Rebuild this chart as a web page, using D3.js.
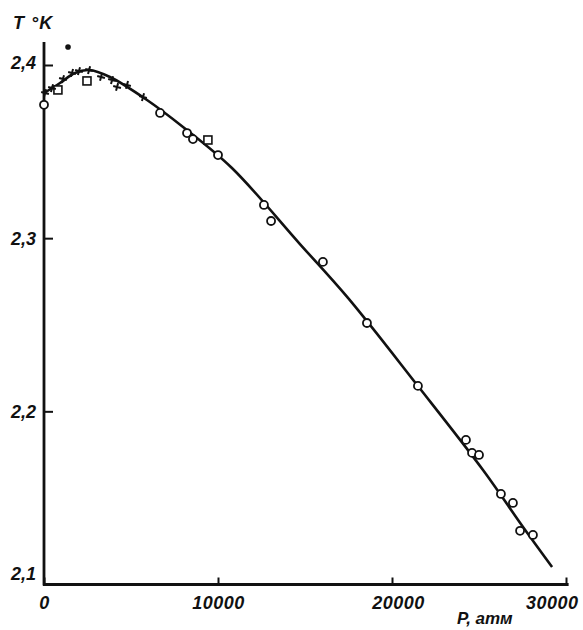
<!DOCTYPE html>
<html>
<head>
<meta charset="utf-8">
<script src="https://cdn.jsdelivr.net/npm/d3@7"></script>
<style>
  body { margin: 0; background: #fff; }
  text { font-family: "Liberation Sans", Arial, sans-serif; font-style: italic; font-weight: bold; fill: #111; }
</style>
</head>
<body>
<div id="chart"></div>
<script>
// svg size
var svgWidth = 583;
var svgHeight = 630;

// data (P in atm, T in K)
var circleP = [0, 6670, 8220, 8560, 10000, 12640, 13050, 16030, 18560, 21490, 24250, 24600, 25000, 26260, 26950, 27360, 28100];
var circleT = [2.377, 2.3723, 2.3607, 2.3572, 2.348, 2.3192, 2.3099, 2.2863, 2.251, 2.2147, 2.1835, 2.176, 2.1748, 2.1523, 2.1471, 2.131, 2.1286];

var squareP = [800, 2470, 9420];
var squareT = [2.3856, 2.3908, 2.3567];

var crossP = [60, 460, 1090, 1610, 2010, 2590, 3280, 3910, 4200, 4770, 5690];
var crossT = [2.3838, 2.3867, 2.3919, 2.3954, 2.3965, 2.3971, 2.3931, 2.3913, 2.3873, 2.3885, 2.3815];

var dotP = [1380];
var dotT = [2.4104];

// the drawn curve
var curveP = [0, 920, 1780, 2590, 3790, 5920, 7990, 10800, 14710, 17470, 21490, 25230, 27530, 29200];
var curveT = [2.3838, 2.3896, 2.3954, 2.3971, 2.3931, 2.3798, 2.3642, 2.3405, 2.2966, 2.2655, 2.2146, 2.1661, 2.1332, 2.1101];

var xTicks = [0, 10000, 20000, 30000];
var yTicks = [2.1, 2.2, 2.3, 2.4];

var svg = d3.select("#chart").append("svg")
    .attr("width", svgWidth)
    .attr("height", svgHeight);

var xScale = d3.scaleLinear().domain([0, 30000]).range([44, 566]);
var yScale = d3.scaleLinear().domain([2.1, 2.4]).range([584.5, 65]);

var zip = (a, b) => a.map((v, i) => ({p: v, t: b[i]}));

// y axis, ticks point inward
var yAxis = d3.axisRight(yScale)
    .tickValues(yTicks)
    .tickSize(9)
    .tickFormat(d => d3.format(".1f")(d).replace(".", ","));

var yG = svg.append("g")
    .attr("transform", `translate(${xScale(0)},0)`)
    .call(yAxis);
yG.select(".domain").remove();
yG.selectAll(".tick line").attr("stroke", "#111").attr("stroke-width", 2);
yG.selectAll(".tick text")
    .attr("x", -8)
    .attr("text-anchor", "end")
    .attr("dy", d => d == 2.1 ? "-0.3em" : d == 2.4 ? "0.2em" : "0.35em")
    .style("font-size", "18px");

// x axis, ticks point inward
var xAxis = d3.axisTop(xScale)
    .tickValues(xTicks)
    .tickSize(7)
    .tickFormat(d3.format("d"));

var xG = svg.append("g")
    .attr("transform", `translate(0,${yScale(2.1)})`)
    .call(xAxis);
xG.select(".domain").remove();
xG.selectAll(".tick line").attr("stroke", "#111").attr("stroke-width", 2);
xG.selectAll(".tick text")
    .attr("y", 24)
    .attr("dy", 0)
    .attr("text-anchor", d => d == 30000 ? "end" : "middle")
    .attr("dx", d => d == 30000 ? 12 : d == 20000 ? 6 : 0)
    .style("font-size", "18px")
    .style("letter-spacing", "0.5px");

// axis lines
svg.append("line")
    .attr("x1", xScale(0)).attr("x2", xScale(0))
    .attr("y1", yScale(2.4133)).attr("y2", yScale(2.1) + 1)
    .attr("stroke", "#111").attr("stroke-width", 2.8);
svg.append("line")
    .attr("x1", xScale(0) - 1).attr("x2", xScale(30150))
    .attr("y1", yScale(2.1)).attr("y2", yScale(2.1))
    .attr("stroke", "#111").attr("stroke-width", 2.8);

// axis titles
svg.append("text")
    .attr("x", 13).attr("y", 29)
    .style("font-size", "18px")
    .style("letter-spacing", "1px")
    .text("T °K");
svg.append("text")
    .attr("x", 457).attr("y", 624)
    .style("font-size", "17px")
    .text("P, атм");

// curve
var line = d3.line()
    .x(d => xScale(d.p))
    .y(d => yScale(d.t))
    .curve(d3.curveCatmullRom.alpha(0.5));

svg.append("path")
    .datum(zip(curveP, curveT))
    .attr("d", line)
    .attr("fill", "none")
    .attr("stroke", "#111")
    .attr("stroke-width", 2.6);

// circles
svg.selectAll("circle.obs")
    .data(zip(circleP, circleT))
    .enter()
    .append("circle")
    .attr("class", "obs")
    .attr("cx", d => xScale(d.p))
    .attr("cy", d => yScale(d.t))
    .attr("r", 4)
    .attr("fill", "#fff")
    .attr("stroke", "#111")
    .attr("stroke-width", 1.8);

// squares
svg.selectAll("rect.sq")
    .data(zip(squareP, squareT))
    .enter()
    .append("rect")
    .attr("class", "sq")
    .attr("x", d => xScale(d.p) - 4)
    .attr("y", d => yScale(d.t) - 4)
    .attr("width", 8)
    .attr("height", 8)
    .attr("fill", "#fff")
    .attr("stroke", "#111")
    .attr("stroke-width", 1.6);

// crosses
svg.selectAll("path.cross")
    .data(zip(crossP, crossT))
    .enter()
    .append("path")
    .attr("class", "cross")
    .attr("transform", d => `translate(${xScale(d.p)},${yScale(d.t)}) rotate(15)`)
    .attr("d", "M-4,0H4M0,-4V4")
    .attr("stroke", "#111")
    .attr("stroke-width", 2);

// filled dot
svg.selectAll("circle.dot")
    .data(zip(dotP, dotT))
    .enter()
    .append("circle")
    .attr("class", "dot")
    .attr("cx", d => xScale(d.p))
    .attr("cy", d => yScale(d.t))
    .attr("r", 2.8)
    .attr("fill", "#111");
</script>
</body>
</html>
